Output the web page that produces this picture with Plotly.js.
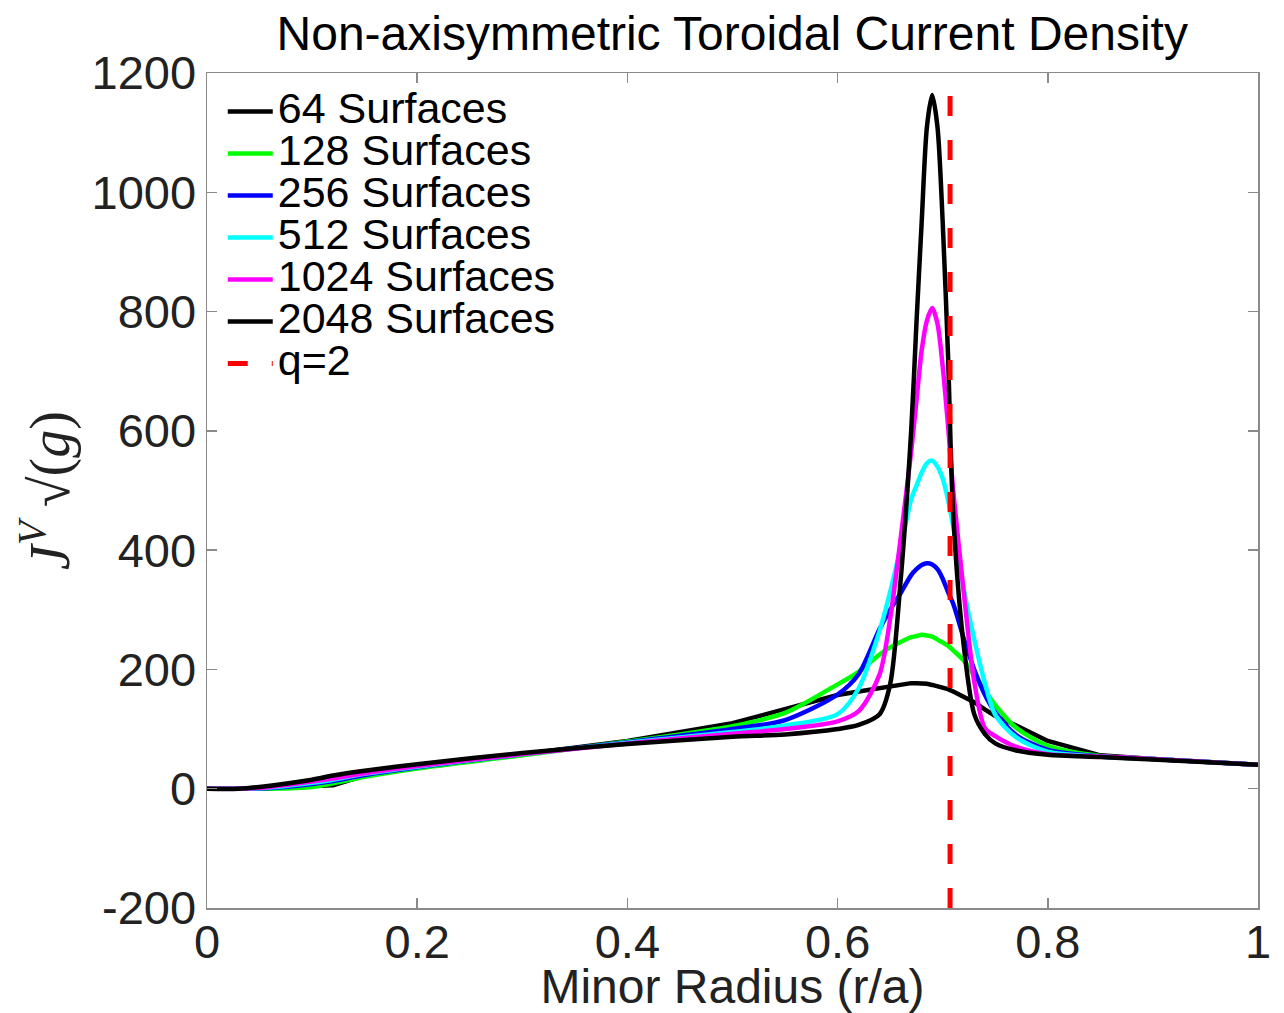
<!DOCTYPE html>
<html>
<head>
<meta charset="utf-8">
<script src="https://cdn.plot.ly/plotly-3.0.1.min.js"></script>
<style>
html,body{margin:0;padding:0;background:#fff;}
#chart{width:1284px;height:1013px;}
</style>
</head>
<body>
<div id="chart"></div>
<script>
// Minor radius grid (r/a)
const r = [0, 0.03, 0.06, 0.1, 0.12, 0.15, 0.2, 0.3, 0.4, 0.5, 0.55, 0.6, 0.62, 0.64, 0.65, 0.66, 0.67, 0.675, 0.68, 0.685, 0.69, 0.695, 0.7, 0.705, 0.71, 0.72, 0.73, 0.74, 0.75, 0.77, 0.8, 0.85, 0.9, 1.0];

const s64   = [0, 0, 2, 4, 6, 22, 36, 58, 80, 110, 133, 157, 163, 169, 172, 175, 177, 177, 177, 176, 174, 172, 170, 167, 163, 155, 145, 133, 122, 106, 80, 56, 50, 40];
const s128  = [0, 0, 0, 3, 9, 20, 34, 56, 79, 105, 127, 175, 196, 225, 237, 246, 254, 256, 258, 257, 255, 250, 245, 240, 232, 215, 190, 165, 140, 102, 72, 55, 50, 40];
const s256  = [0, 0, 1, 8, 13, 23, 36, 58, 78, 100, 115, 158, 192, 268, 300, 328, 358, 368, 375, 378, 376, 368, 352, 330, 310, 252, 200, 158, 128, 90, 65, 54, 50, 40];
const s512  = [0, 0, 2, 10, 15, 25, 37, 58, 77, 95, 106, 125, 168, 265, 330, 405, 485, 508, 530, 546, 550, 540, 520, 485, 440, 335, 250, 178, 124, 86, 62, 54, 50, 40];
const s1024 = [0, 0, 3, 12, 17, 26, 38, 58, 76, 92, 100, 113, 130, 192, 285, 420, 565, 650, 735, 785, 806, 780, 708, 610, 500, 330, 180, 102, 88, 70, 58, 54, 50, 40];
const s2048 = [0, 0, 5, 15, 22, 30, 41, 60, 75, 87, 91, 100, 107, 125, 175, 350, 600, 780, 950, 1110, 1163, 1110, 950, 730, 460, 240, 125, 92, 76, 64, 57, 53, 49, 40];

// q=2 rational surface location
const qR = [0.707, 0.707];
const qY = [-200, 1200];

const names = ["64 Surfaces", "128 Surfaces", "256 Surfaces", "512 Surfaces", "1024 Surfaces", "2048 Surfaces", "q=2"];
const colors = ["#000000", "#00ff00", "#0000ff", "#00ffff", "#ff00ff", "#000000", "#ff0000"];

const xTicks = [0, 0.2, 0.4, 0.6, 0.8, 1];
const xTickText = ["0", "0.2", "0.4", "0.6", "0.8", "1"];
const yTicks = [-200, 0, 200, 400, 600, 800, 1000, 1200];
const yTickText = ["-200", "0", "200", "400", "600", "800", "1000", "1200"];

const series = [s64, s128, s256, s512, s1024, s2048];
const big = t => '<span style="font-size:43px">' + t + '</span>';

const traces = series.map((s, i) => ({
  x: r, y: s, type: 'scatter', mode: 'lines',
  name: big(names[i]),
  line: {color: colors[i], width: 4.5, shape: i === 0 ? 'linear' : 'spline', smoothing: 0.8}
}));
traces.push({
  x: qR, y: qY, type: 'scatter', mode: 'lines',
  name: big(names[6]),
  line: {color: colors[6], width: 5, dash: '20px,24px'}
});

const FONT = 'Liberation Sans, Arial, Helvetica, sans-serif';
const axisCommon = {
  showgrid: false, zeroline: false, showline: true, linecolor: '#8a8a8a', linewidth: 1.5,
  mirror: 'ticks', ticks: 'inside', ticklen: 10, tickwidth: 1.5, tickcolor: '#8a8a8a',
  tickfont: {family: FONT, size: 47, color: '#222'}
};

const layout = {
  width: 1284, height: 1013,
  margin: {l: 207, r: 26, t: 73, b: 105},
  paper_bgcolor: '#fff', plot_bgcolor: '#fff',
  showlegend: true,
  title: {text: 'Non-axisymmetric Toroidal Current Density', font: {family: FONT, size: 48, color: '#000'},
          x: 0.5703, xanchor: 'center', y: 0.967, yanchor: 'middle'},
  xaxis: Object.assign({}, axisCommon, {
    range: [0, 1], tickmode: 'array', tickvals: xTicks, ticktext: xTickText,
    ticklabelstandoff: -8,
    title: {text: 'Minor Radius (r/a)', font: {family: FONT, size: 48, color: '#222'}, standoff: 10}
  }),
  yaxis: Object.assign({}, axisCommon, {
    range: [-200, 1200], tickmode: 'array', tickvals: yTicks, ticktext: yTickText,
    title: {text: '<i>J</i><sup><i>V</i></sup> √(<i>g</i>)', font: {family: 'Liberation Serif, DejaVu Serif, serif', size: 56, color: '#222'}, standoff: 4}
  }),
  legend: {
    x: 0.015, y: 0.985, xanchor: 'left', yanchor: 'top',
    bgcolor: 'rgba(0,0,0,0)', borderwidth: 0,
    font: {family: FONT, size: 30, color: '#000'},
    tracegroupgap: 0, itemwidth: 45
  }
};

Plotly.newPlot('chart', traces, layout, {displayModeBar: false, staticPlot: true});
</script>
</body>
</html>
